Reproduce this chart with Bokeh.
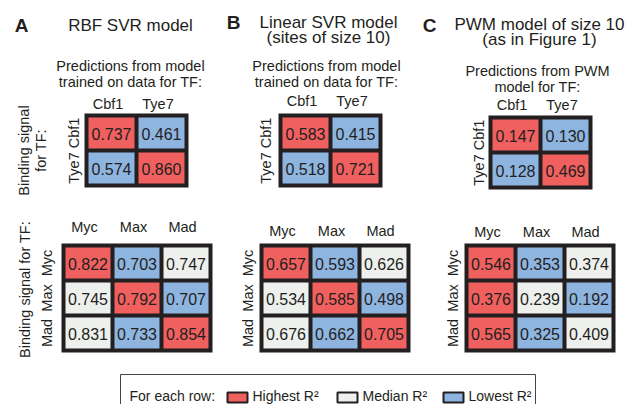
import math
from bokeh.plotting import figure
from bokeh.models import Range1d, ColumnDataSource
from bokeh.embed import file_html
from bokeh.resources import INLINE
from bokeh.core.properties import value

# ---------------- data ----------------
tf_pair = ["Cbf1", "Tye7"]
tf_trio = ["Myc", "Max", "Mad"]

rbf_pair = [[0.737, 0.461], [0.574, 0.860]]
rbf_trio = [[0.822, 0.703, 0.747], [0.745, 0.792, 0.707], [0.831, 0.733, 0.854]]
lin_pair = [[0.583, 0.415], [0.518, 0.721]]
lin_trio = [[0.657, 0.593, 0.626], [0.534, 0.585, 0.498], [0.676, 0.662, 0.705]]
pwm_pair = [[0.147, 0.130], [0.128, 0.469]]
pwm_trio = [[0.546, 0.353, 0.374], [0.376, 0.239, 0.192], [0.565, 0.325, 0.409]]

panel_letters = ["A", "B", "C"]
panel_titles = [["RBF SVR model"],
                ["Linear SVR model", "(sites of size 10)"],
                ["PWM model of size 10", "(as in Figure 1)"]]
panel_subtitles = [["Predictions from model", "trained on data for TF:"],
                   ["Predictions from model", "trained on data for TF:"],
                   ["Predictions from PWM", "model for TF:"]]
row_axis_pair = ["Binding signal", "for TF:"]
row_axis_trio = "Binding signal for TF:"
legend_intro = "For each row:"
legend_labels = ["Highest R\u00b2", "Median R\u00b2", "Lowest R\u00b2"]

# ---------------- style / layout ----------------
FONT = value("Liberation Sans")
INK = "#231F20"
COLORS = {"high": "#F0605F", "mid": "#EEF0EE", "low": "#8EB4E0"}
LEG_KEYS = ["high", "mid", "low"]

B = 4      # frame thickness
G = 4      # gap between cells
PW, PH = 46, 31   # 2x2 cell size
TW, TH = 45, 31   # 3x3 cell size

layout = [
    dict(letter=(21, 25), title=(130, [25]), sub=(130, [65, 81.5]),
         pair=(84, 113), pair_col_dy=-10, pair_row_dx=-11,
         trio=(61, 243), trio_col_dy=-17, trio_row_dx=-15),
    dict(letter=(233, 22), title=(328, [21.5, 37]), sub=(326, [65.5, 81.5]),
         pair=(278, 113), pair_col_dy=-13, pair_row_dx=-13,
         trio=(259, 243), trio_col_dy=-13, trio_row_dx=-12),
    dict(letter=(429, 24.5), title=(539, [24, 39]), sub=(537, [70, 86]),
         pair=(488, 115), pair_col_dy=-11, pair_row_dx=-10,
         trio=(464, 243), trio_col_dy=-12, trio_row_dx=-12),
]

W, H = 637, 404
p = figure(width=W, height=H, x_range=Range1d(0, W), y_range=Range1d(H, 0),
           output_backend="svg", toolbar_location=None, min_border=0,
           x_axis_location=None, y_axis_location=None)
p.grid.visible = False
p.outline_line_color = None
p.background_fill_color = "white"
p.border_fill_color = "white"


def classes(row):
    order = sorted(range(len(row)), key=lambda k: row[k])
    cls = ["mid"] * len(row)
    cls[order[0]] = "low"
    cls[order[-1]] = "high"
    return cls


def draw_grid(x0, y0, cw, ch, data, labels, col_dy, row_dx):
    n = len(data)
    fw = B * 2 + cw * n + G * (n - 1)
    fh = B * 2 + ch * n + G * (n - 1)
    p.quad(left=[x0], right=[x0 + fw], top=[y0], bottom=[y0 + fh],
           fill_color=INK, line_color=None)
    L, R, T, Bo, C, X, Y, TXT = [], [], [], [], [], [], [], []
    for i, row in enumerate(data):
        cl = classes(row)
        for j, v in enumerate(row):
            l = x0 + B + j * (cw + G)
            t = y0 + B + i * (ch + G)
            L.append(l); R.append(l + cw); T.append(t); Bo.append(t + ch)
            C.append(COLORS[cl[j]])
            X.append(l + cw / 2); Y.append(t + ch / 2 + 0.5)
            TXT.append(f"{v:.3f}")
    src = ColumnDataSource(dict(left=L, right=R, top=T, bottom=Bo, color=C, x=X, y=Y, text=TXT))
    p.quad(left="left", right="right", top="top", bottom="bottom", fill_color="color",
           line_color=None, source=src)
    p.text(x="x", y="y", text="text", source=src, text_font=FONT, text_font_size="16px",
           text_color=INK, text_align="center", text_baseline="middle")
    # column labels
    cx = [x0 + B + j * (cw + G) + cw / 2 - 3.5 for j in range(n)]
    p.text(x=cx, y=[y0 + col_dy] * n, text=labels, text_font=FONT, text_font_size="14.5px",
           text_color=INK, text_align="center", text_baseline="middle")
    # row labels (rotated)
    ry = [y0 + B + i * (ch + G) + ch / 2 for i in range(n)]
    p.text(x=[x0 + row_dx] * n, y=ry, text=labels, text_font=FONT, text_font_size="14.5px",
           text_color=INK, text_align="center", text_baseline="middle", angle=math.pi / 2)


pair_data = [rbf_pair, lin_pair, pwm_pair]
trio_data = [rbf_trio, lin_trio, pwm_trio]

for k, lay in enumerate(layout):
    lx, ly = lay["letter"]
    p.text(x=[lx], y=[ly], text=[panel_letters[k]], text_font=FONT, text_font_size="19px",
           text_font_style="bold", text_color=INK, text_align="center", text_baseline="middle")
    tx, tys = lay["title"]
    p.text(x=[tx] * len(tys), y=tys, text=panel_titles[k], text_font=FONT,
           text_font_size="17px", text_color=INK, text_align="center", text_baseline="middle")
    sx, sys_ = lay["sub"]
    p.text(x=[sx] * len(sys_), y=sys_, text=panel_subtitles[k], text_font=FONT,
           text_font_size="14.5px", text_color=INK, text_align="center", text_baseline="middle")
    draw_grid(lay["pair"][0], lay["pair"][1], PW, PH, pair_data[k], tf_pair,
              lay["pair_col_dy"], lay["pair_row_dx"])
    draw_grid(lay["trio"][0], lay["trio"][1], TW, TH, trio_data[k], tf_trio,
              lay["trio_col_dy"], lay["trio_row_dx"])

# row-axis titles for panel A
p.text(x=[23, 40], y=[150, 150], text=row_axis_pair, text_font=FONT, text_font_size="14.5px",
       text_color=INK, text_align="center", text_baseline="middle", angle=math.pi / 2)
p.text(x=[24], y=[289], text=[row_axis_trio], text_font=FONT, text_font_size="14.5px",
       text_color=INK, text_align="center", text_baseline="middle", angle=math.pi / 2)

# legend
leg_top, leg_y = 374, 395
p.quad(left=[120], right=[535], top=[leg_top], bottom=[440], fill_color="white",
       line_color="#444444", line_width=1)
p.text(x=[129], y=[leg_y], text=[legend_intro], text_font=FONT, text_font_size="14px",
       text_color=INK, text_align="left", text_baseline="middle")
sw_left = [227, 337, 443]
p.quad(left=sw_left, right=[s + 20 for s in sw_left], top=[leg_y - 3] * 3,
       bottom=[leg_y + 7] * 3, fill_color=[COLORS[k] for k in LEG_KEYS],
       line_color=INK, line_width=2)
p.text(x=[s + 25 for s in sw_left], y=[leg_y] * 3, text=legend_labels, text_font=FONT,
       text_font_size="14px", text_color=INK, text_align="left", text_baseline="middle")

open("out.html", "w").write(file_html(p, INLINE))
